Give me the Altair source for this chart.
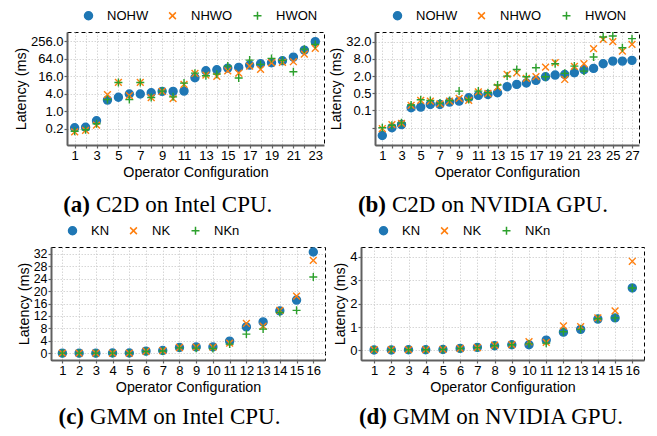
import altair as alt
import pandas as pd

# ---------------- data ----------------
a_x = list(range(1, 24))
a_nohw = [0.27, 0.28, 0.47, 2.4, 3.0, 3.9, 3.9, 4.3, 4.8, 4.8, 4.9, 14.0, 24.4, 26.4, 30.1, 31.8, 38.3, 42.5, 46.0, 53.9, 72.0, 125.0, 243.0]
a_nhwo = [0.195, 0.22, 0.33, 3.7, 9.7, 3.4, 9.7, 2.9, 4.75, 2.7, 8.3, 19.7, 17.3, 15.6, 24.4, 20.2, 35.3, 27.1, 46.0, 47.2, 49.9, 91.5, 143.0]
a_hwon = [0.205, 0.23, 0.37, 2.5, 9.7, 2.5, 9.7, 2.95, 4.9, 3.1, 9.2, 20.2, 16.4, 18.7, 35.3, 13.7, 56.8, 40.3, 65.0, 55.4, 22.5, 135.0, 196.0]

b_x = list(range(1, 28))
b_nohw = [0.0166, 0.031, 0.040, 0.155, 0.164, 0.203, 0.203, 0.245, 0.266, 0.348, 0.42, 0.455, 0.52, 0.85, 1.02, 1.14, 1.41, 1.9, 2.17, 2.28, 2.61, 3.33, 3.72, 5.4, 6.7, 6.7, 7.1]
b_nhwo = [0.029, 0.040, 0.044, 0.188, 0.28, 0.266, 0.214, 0.266, 0.329, 0.28, 0.56, 0.49, 0.82, 2.28, 2.61, 1.65, 1.9, 4.13, 5.88, 1.52, 4.36, 5.4, 18.2, 38.8, 32.0, 15.0, 25.9]
b_hwon = [0.031, 0.038, 0.046, 0.193, 0.296, 0.28, 0.226, 0.28, 0.595, 0.304, 0.595, 0.52, 0.97, 2.0, 3.42, 1.9, 3.91, 1.9, 5.4, 2.49, 4.48, 2.99, 9.29, 46.6, 50.5, 19.6, 40.9]

c_x = list(range(1, 17))
c_kn = [0.1, 0.1, 0.1, 0.15, 0.15, 0.75, 0.95, 1.9, 2.1, 2.1, 3.95, 8.5, 10.1, 13.65, 17.1, 32.5]
c_nk = [0.1, 0.1, 0.1, 0.1, 0.1, 0.7, 0.9, 1.9, 2.0, 2.0, 3.3, 9.6, 8.75, 13.8, 18.35, 29.8]
c_nkn = [0.1, 0.1, 0.1, 0.1, 0.1, 0.6, 0.8, 1.8, 1.7, 1.6, 3.0, 6.2, 7.8, 13.1, 13.8, 24.5]

d_x = list(range(1, 17))
d_kn = [0.02, 0.02, 0.03, 0.03, 0.04, 0.085, 0.13, 0.2, 0.24, 0.24, 0.44, 0.78, 0.9, 1.34, 1.39, 2.67]
d_nk = [0.03, 0.03, 0.03, 0.03, 0.04, 0.09, 0.12, 0.22, 0.25, 0.37, 0.34, 1.05, 1.02, 1.39, 1.69, 3.81]
d_nkn = [0.03, 0.03, 0.03, 0.03, 0.04, 0.08, 0.12, 0.2, 0.24, 0.28, 0.31, 0.8, 0.9, 1.35, 1.39, 2.67]

top_names = ["NOHW", "NHWO", "HWON"]
bot_names = ["KN", "NK", "NKn"]

COLORS = ["#1f77b4", "#ff7f0e", "#2ca02c"]
XPATH = "M-0.85,-0.85L0.85,0.85M-0.85,0.85L0.85,-0.85"
PLUS = "M-1,0L1,0M0,-1L0,1"
SHAPES = ["circle", XPATH, PLUS]

SANS = "Liberation Sans"
SERIF = "Liberation Serif"
CAP_SIZE = 23


def long_df(xs, names, series):
    rows = []
    for name, vals in zip(names, series):
        for x, v in zip(xs, vals):
            rows.append({"x": x, "v": v, "s": name})
    return pd.DataFrame(rows)


def panel(xs, names, series, w, h, xdom, odd_only, yscale, yvals, ylabel_expr, ylab_size,
          leg_x, cap_bold, cap_text, cap_x, cap_y):
    df = long_df(xs, names, series)
    leg = alt.Legend(orient="none", legendX=leg_x, legendY=-23, direction="horizontal",
                     title=None, labelFontSize=13, labelFont=SANS, symbolSize=64,
                     symbolStrokeWidth=1.5, columnPadding=17, labelOffset=12, padding=0)
    xlabel = "datum.value % 2 == 1 ? datum.label : ''" if odd_only else "datum.label"
    pts = alt.Chart(df).mark_point(filled=True, size=64, strokeWidth=1.4, opacity=1).encode(
        x=alt.X("x:Q", scale=alt.Scale(domain=xdom, nice=False, zero=False),
                axis=alt.Axis(values=xs, labelExpr=xlabel, title="Operator Configuration",
                              labelOverlap=False, labelFlush=False)),
        y=alt.Y("v:Q", scale=yscale,
                axis=alt.Axis(values=yvals, labelExpr=ylabel_expr, title="Latency (ms)",
                              labelOverlap=False, labelFlush=False, labelFontSize=ylab_size)),
        fill=alt.Fill("s:N", scale=alt.Scale(domain=names, range=COLORS), legend=leg, sort=names),
        stroke=alt.Stroke("s:N", scale=alt.Scale(domain=names, range=COLORS), legend=leg, sort=names),
        shape=alt.Shape("s:N", scale=alt.Scale(domain=names, range=SHAPES), legend=leg, sort=names),
    ).properties(width=w, height=h)
    capdf = pd.DataFrame({"b": [cap_bold], "t": [cap_text]})
    c1 = alt.Chart(capdf).mark_text(font=SERIF, fontSize=CAP_SIZE, fontWeight="bold", align="right",
                                     baseline="middle", color="black").encode(
        text="b:N", x=alt.value(cap_x), y=alt.value(cap_y))
    c2 = alt.Chart(capdf).mark_text(font=SERIF, fontSize=CAP_SIZE, align="left",
                                     baseline="middle", color="black").encode(
        text="t:N", x=alt.value(cap_x + 6), y=alt.value(cap_y))
    return alt.layer(pts, c1, c2).resolve_scale(fill="independent", stroke="independent", shape="independent")


def spacer():
    # tiny invisible first column so that each row can place its own panels independently
    return alt.Chart(pd.DataFrame({"z": [0]})).mark_point(opacity=0, size=0).encode(
        x=alt.value(0), y=alt.value(0)
    ).properties(width=1, height=1, view=alt.ViewBackground(stroke=None))


H = 113
pa = panel(a_x, top_names, [a_nohw, a_nhwo, a_hwon], 257, H, [0.3, 23.8], True,
           alt.Scale(type="log", domain=[0.069, 523], nice=False),
           [0.25, 1, 4, 16, 64, 256], "datum.value < 0.5 ? '0.2' : format(datum.value, '.1f')", 13,
           15, "(a)", "C2D on Intel CPU.", 23, 173)
pb = panel(b_x, top_names, [b_nohw, b_nhwo, b_hwon], 264, H, [0.24, 27.73], True,
           alt.Scale(type="log", domain=[0.0077, 70], nice=False),
           [0.03125, 0.125, 0.5, 2, 8, 32], "datum.value < 0.1 ? '' : format(datum.value, '.1f')", 13,
           16, "(b)", "C2D on NVIDIA GPU.", 11, 173)
pc = panel(c_x, bot_names, [c_kn, c_nk, c_nkn], 274, H, [0.32, 16.7], False,
           alt.Scale(domain=[-2.1, 34.1], nice=False, zero=False),
           list(range(0, 33, 4)), "datum.label", 12.4,
           15, "(c)", "GMM on Intel CPU.", 33, 170)
pd_ = panel(d_x, bot_names, [d_kn, d_nk, d_nkn], 283, H, [0.24, 16.68], False,
            alt.Scale(domain=[-0.41, 4.42], nice=False, zero=False),
            [0, 1, 2, 3, 4], "datum.label", 13,
            16, "(d)", "GMM on NVIDIA GPU.", 26, 170)

RES = dict(fill="independent", stroke="independent", shape="independent")
row1 = alt.hconcat(spacer(), pa, pb, spacing=7).resolve_scale(**RES).resolve_legend(**RES)
row2 = alt.hconcat(spacer(), pc, pd_, spacing=7).resolve_scale(**RES).resolve_legend(**RES)
row1 = alt.hconcat(spacer(), pa, pb, spacing=4).resolve_scale(**RES).resolve_legend(**RES)

chart = alt.vconcat(row1, row2, spacing=5).resolve_scale(**RES).resolve_legend(**RES).properties(
    padding={"left": 0, "top": 0, "right": 0, "bottom": 0}
).configure_view(
    stroke="black", strokeDash=[4, 3], strokeWidth=1
).configure_axis(
    labelFont=SANS, labelFontSize=13, labelColor="black", labelPadding=1,
    titleFont=SANS, titleFontSize=14.3, titleFontWeight="normal", titleColor="black", titlePadding=2,
    domainColor="#606060", domainWidth=2, tickColor="#606060", tickWidth=1.2, tickSize=3,
    gridColor="#cccccc", gridDash=[1.5, 1.5], gridWidth=0.8
).configure_axisX(titlePadding=3).configure_legend(labelColor="black")

chart.save("out.html", embed_options={"renderer": "svg", "actions": False})
